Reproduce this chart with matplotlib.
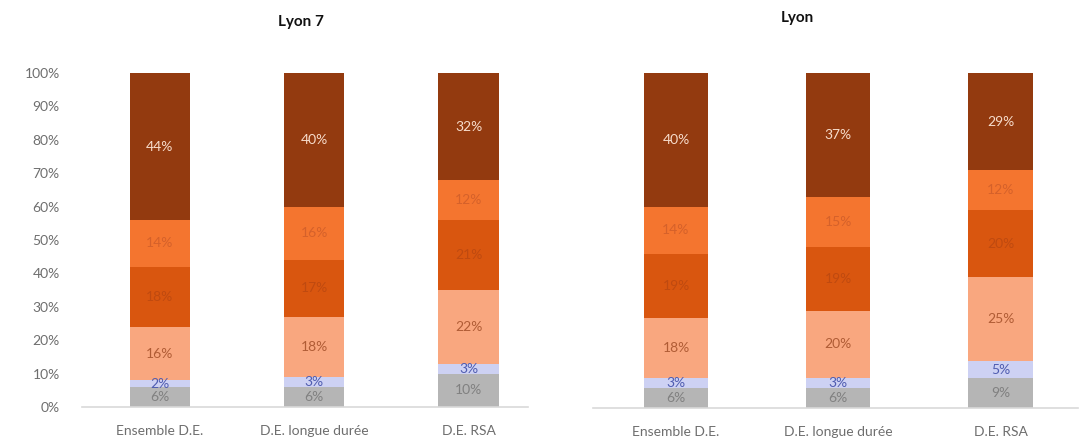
import matplotlib

matplotlib.use("Agg")
import matplotlib.pyplot as plt
import numpy as np

plt.rcParams["font.family"] = ["Lato", "DejaVu Sans"]

categories = ["Ensemble D.E.", "D.E. longue durée", "D.E. RSA"]
panel_titles = ["Lyon 7", "Lyon"]

# shares (%) per group, stacked bottom to top
lyon7 = {
    "grey": [6, 6, 10],
    "lilac": [2, 3, 3],
    "salmon": [16, 18, 22],
    "dark_orange": [18, 17, 21],
    "orange": [14, 16, 12],
    "brown": [44, 40, 32],
}
lyon = {
    "grey": [6, 6, 9],
    "lilac": [3, 3, 5],
    "salmon": [18, 20, 25],
    "dark_orange": [19, 19, 20],
    "orange": [14, 15, 12],
    "brown": [40, 37, 29],
}

seg_colors = {
    "grey": "#b5b5b5",
    "lilac": "#cdd1f3",
    "salmon": "#f9a77f",
    "dark_orange": "#d9560f",
    "orange": "#f4752f",
    "brown": "#933a0f",
}
label_colors = {
    "grey": "#808080",
    "lilac": "#4f5cb0",
    "salmon": "#b05c35",
    "dark_orange": "#bf4a10",
    "orange": "#d5612a",
    "brown": "#f7dccb",
}

fig = plt.figure(figsize=(10.86, 4.47), dpi=100)
ax_left = fig.add_axes([0.0755, 0.0895, 0.411, 0.747])
ax_right = fig.add_axes([0.546, 0.087, 0.447, 0.7497])


def draw_panel(ax, data, xlim, width, show_y):
    x = np.arange(len(categories))
    bottom = np.zeros(len(categories))
    for key, vals in data.items():
        vals = np.array(vals, dtype=float)
        ax.bar(x, vals, width, bottom=bottom, color=seg_colors[key], linewidth=0)
        for xi, b, v in zip(x, bottom, vals):
            ax.text(xi, b + v / 2, f"{int(v)}%", ha="center", va="center",
                    fontsize=10, color=label_colors[key])
        bottom += vals

    ax.set_xlim(*xlim)
    ax.set_ylim(0, 100)
    ax.set_xticks(x)
    ax.set_xticklabels(categories, fontsize=10, color="#6e6e6e")
    ax.tick_params(axis="both", length=0)
    ax.tick_params(axis="x", pad=13)
    if show_y:
        ax.set_yticks(np.arange(0, 101, 10))
        ax.set_yticklabels([f"{t}%" for t in range(0, 101, 10)], fontsize=10,
                           color="#6e6e6e")
        ax.tick_params(axis="y", pad=16)
    else:
        ax.set_yticks([])
    for side in ["top", "right", "left"]:
        ax.spines[side].set_visible(False)
    ax.spines["bottom"].set_color("#d9d9d9")
    ax.spines["bottom"].set_linewidth(1.2)


draw_panel(ax_left, lyon7, (-0.503, 2.387), 0.39, True)
draw_panel(ax_right, lyon, (-0.512, 2.48), 0.395, False)

fig.text(0.277, 0.950, panel_titles[0], ha="center", va="center",
         fontsize=11, fontweight="bold", color="#111111")
fig.text(0.734, 0.960, panel_titles[1], ha="center", va="center",
         fontsize=11, fontweight="bold", color="#111111")

fig.savefig("out.png", dpi=100)
